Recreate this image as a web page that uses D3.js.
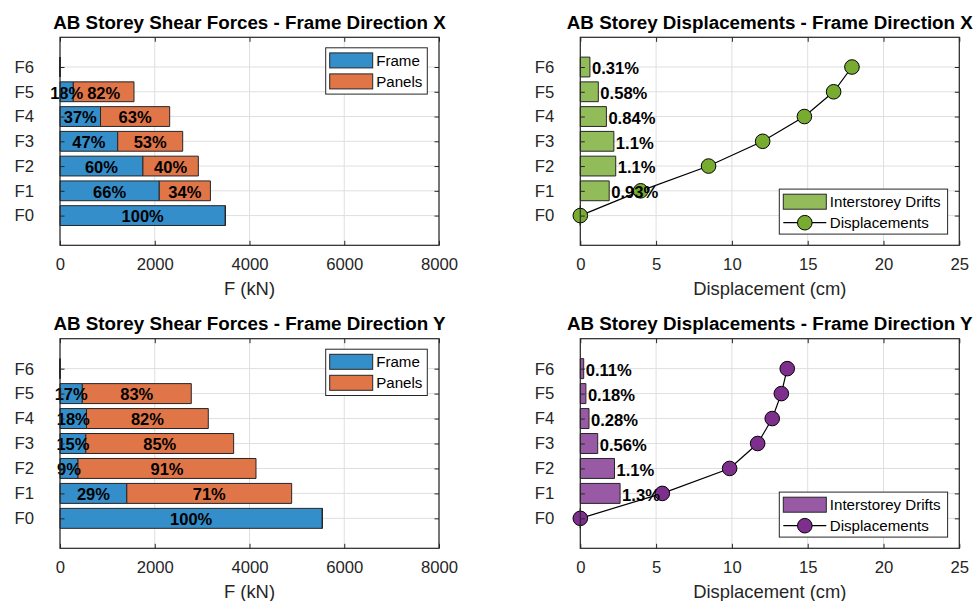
<!DOCTYPE html>
<html>
<head>
<meta charset="utf-8">
<script src="https://cdn.jsdelivr.net/npm/d3@7"></script>
<style>
  html, body { margin: 0; padding: 0; background: #fff; }
  svg { display: block; font-family: "Liberation Sans", Arial, Helvetica, sans-serif; }
</style>
</head>
<body>
<svg id="chart" width="975" height="601"></svg>
<script>
// Storey labels, bottom to top
const storeys = ["F0", "F1", "F2", "F3", "F4", "F5", "F6"];

// Storey shear forces (kN) carried by frame and by infill panels
const frameX  = [3490, 2095, 1750, 1218,  855,  281, 0];
const panelsX = [   0, 1080, 1170, 1372, 1460, 1281, 0];
const frameY  = [5537, 1410,  380,  545,  560,  471, 0];
const panelsY = [   0, 3480, 3757, 3120, 2570, 2300, 0];

// Interstorey drift ratios (%) and storey displacements (cm)
const driftX = [0, 0.93, 1.14, 1.08, 0.84, 0.58, 0.31];
const dispX  = [0, 3.98, 8.46, 12.03, 14.78, 16.71, 17.92];
const driftY = [0, 1.28, 1.10, 0.56, 0.28, 0.18, 0.11];
const dispY  = [0, 5.41, 9.85, 11.70, 12.66, 13.26, 13.65];
const storeyHeight = 205; // cm, converts drift ratio to drift length

// Axis ticks
const forceTicks = [0, 2000, 4000, 6000, 8000];
const dispTicks = [0, 5, 10, 15, 20, 25];

const svg = d3.select("#chart");
const INK = "#262626";
const TICK_FONT = 16.7, LABEL_FONT = 18.4, TITLE_FONT = 18.8, LEGEND_FONT = 15.1;

function rectPath(x, y, w, h) {
  const p = d3.path();
  p.rect(x, y, w, h);
  return p.toString();
}

function makeAxes(box, xDomain, xTicks, xLabel, title) {
  const g = svg.append("g");
  const x = d3.scaleLinear().domain(xDomain).range([box.left, box.right]);
  const y = d3.scaleLinear().domain([-1.2, 7.2]).range([box.bottom, box.top]);
  const yTicks = d3.range(storeys.length);

  // grid
  const grid = g.append("g").attr("stroke", "#dfdfdf").attr("stroke-width", 1);
  grid.selectAll("line.vx").data(xTicks).join("line")
    .attr("x1", d => x(d)).attr("x2", d => x(d))
    .attr("y1", box.top).attr("y2", box.bottom);
  grid.selectAll("line.hy").data(yTicks).join("line")
    .attr("x1", box.left).attr("x2", box.right)
    .attr("y1", d => y(d)).attr("y2", d => y(d));

  const layers = { g, x, y, marks: g.append("g") };

  // axes drawn after marks
  layers.finish = function () {
    const ax = g.append("g");
    const bottom = ax.append("g").attr("transform", `translate(0,${box.bottom})`)
      .call(d3.axisBottom(x).tickValues(xTicks).tickSize(-4.5).tickPadding(13).tickFormat(d3.format("d")));
    const top = ax.append("g").attr("transform", `translate(0,${box.top})`)
      .call(d3.axisTop(x).tickValues(xTicks).tickSize(-4.5).tickFormat(""));
    const left = ax.append("g").attr("transform", `translate(${box.left},0)`)
      .call(d3.axisLeft(y).tickValues(yTicks).tickSize(-4.5).tickPadding(26).tickFormat(i => storeys[i]));
    const right = ax.append("g").attr("transform", `translate(${box.right},0)`)
      .call(d3.axisRight(y).tickValues(yTicks).tickSize(-4.5).tickFormat(""));
    [bottom, top, left, right].forEach(a => {
      a.select(".domain").remove();
      a.selectAll(".tick line").attr("stroke", INK).attr("stroke-width", 1);
      a.selectAll(".tick text").attr("fill", INK).attr("font-size", TICK_FONT).attr("font-family", null);
    });
    ax.append("rect")
      .attr("x", box.left).attr("y", box.top)
      .attr("width", box.right - box.left).attr("height", box.bottom - box.top)
      .attr("fill", "none").attr("stroke", INK).attr("stroke-width", 1.2);
    ax.append("text")
      .attr("x", (box.left + box.right) / 2).attr("y", box.bottom + 49.3)
      .attr("text-anchor", "middle").attr("fill", INK).attr("font-size", LABEL_FONT)
      .text(xLabel);
    ax.append("text")
      .attr("x", (box.left + box.right) / 2).attr("y", box.top - 8.7)
      .attr("text-anchor", "middle").attr("fill", "#000").attr("font-size", TITLE_FONT)
      .attr("font-weight", "bold")
      .text(title);
  };
  return layers;
}

// legend box anchored to the top-right ("ne") or bottom-right ("se") corner
function legend(parent, box, w, h, corner, entries) {
  const lx = box.right - 11.7 - w;
  const ly = corner === "ne" ? box.top + 10.5 : box.bottom - 11.2 - h;
  const g = parent.append("g").attr("transform", `translate(${lx},${ly})`);
  g.append("rect").attr("width", w).attr("height", h)
    .attr("fill", "#fff").attr("stroke", INK).attr("stroke-width", 1);
  entries.forEach((e, i) => {
    const cy = 12.6 + i * 21;
    if (e.type === "bar") {
      g.append("rect").attr("x", 4).attr("y", cy - 7.5).attr("width", 43).attr("height", 15)
        .attr("fill", e.color).attr("stroke", INK).attr("stroke-width", 1);
    } else {
      g.append("line").attr("x1", 4).attr("x2", 47).attr("y1", cy).attr("y2", cy)
        .attr("stroke", "#000").attr("stroke-width", 1.2);
      g.append("circle").attr("cx", 25.5).attr("cy", cy).attr("r", 7.3)
        .attr("fill", e.color).attr("stroke", "#000").attr("stroke-width", 1);
    }
    g.append("text").attr("x", 50.5).attr("y", cy).attr("dy", "0.35em")
      .attr("font-size", LEGEND_FONT).attr("fill", "#000").text(e.label);
  });
}

function shearPanel(box, frame, panels, title) {
  const ax = makeAxes(box, [0, 8000], forceTicks, "F (kN)", title);
  const { x, y, marks } = ax;
  const bh = (y(0) - y(1)) * 0.8;
  const blue = "#338eca", orange = "#e07547";
  const rows = storeys.map((s, i) => ({ i, f: frame[i], p: panels[i], t: frame[i] + panels[i] }));

  marks.selectAll("path.frame").data(rows).join("path")
    .attr("d", d => rectPath(x(0), y(d.i) - bh / 2, x(d.f) - x(0), bh))
    .attr("fill", blue).attr("stroke", INK).attr("stroke-width", 1);
  marks.selectAll("path.panel").data(rows).join("path")
    .attr("d", d => rectPath(x(d.f), y(d.i) - bh / 2, x(d.t) - x(d.f), bh))
    .attr("fill", orange).attr("stroke", INK).attr("stroke-width", 1);

  const labels = [];
  rows.forEach(d => {
    if (d.t <= 0) return;
    if (d.f > 0) labels.push({ i: d.i, cx: d.f / 2, v: Math.round(d.f / d.t * 100) });
    if (d.p > 0) labels.push({ i: d.i, cx: d.f + d.p / 2, v: Math.round(d.p / d.t * 100) });
  });
  marks.selectAll("text.pct").data(labels).join("text")
    .attr("x", d => x(d.cx)).attr("y", d => y(d.i) + 1).attr("dy", "0.35em")
    .attr("text-anchor", "middle").attr("font-weight", "bold").attr("font-size", 16.5)
    .attr("fill", "#000").text(d => d.v + "%");

  ax.finish();
  legend(ax.g, box, 101.6, 46.3, "ne", [
    { type: "bar", color: blue, label: "Frame" },
    { type: "bar", color: orange, label: "Panels" }
  ]);
}

function dispPanel(box, drift, disp, title, barColor, markColor) {
  const ax = makeAxes(box, [0, 25], dispTicks, "Displacement (cm)", title);
  const { x, y, marks } = ax;
  const bh = (y(0) - y(1)) * 0.8;
  const rows = storeys.map((s, i) => ({ i, r: drift[i], len: drift[i] * storeyHeight / 100, u: disp[i] }));
  const fmt = d3.format(".2~r");

  marks.selectAll("path.drift").data(rows).join("path")
    .attr("d", d => rectPath(x(0), y(d.i) - bh / 2, x(d.len) - x(0), bh))
    .attr("fill", barColor).attr("stroke", INK).attr("stroke-width", 1);

  marks.append("path").datum(rows)
    .attr("d", d3.line().x(d => x(d.u)).y(d => y(d.i)))
    .attr("fill", "none").attr("stroke", "#000").attr("stroke-width", 1.2);
  marks.selectAll("circle").data(rows).join("circle")
    .attr("cx", d => x(d.u)).attr("cy", d => y(d.i)).attr("r", 7.3)
    .attr("fill", markColor).attr("stroke", "#000").attr("stroke-width", 1);

  marks.selectAll("text.drift").data(rows.filter(d => d.r > 0)).join("text")
    .attr("x", d => x(d.len) + 2).attr("y", d => y(d.i) + 1.5).attr("dy", "0.35em")
    .attr("font-weight", "bold").attr("font-size", 16.6).attr("fill", "#000")
    .text(d => fmt(d.r) + "%");

  ax.finish();
  legend(ax.g, box, 168.3, 45, "se", [
    { type: "bar", color: barColor, label: "Interstorey Drifts" },
    { type: "line", color: markColor, label: "Displacements" }
  ]);
}

const topBox = { top: 37.3, bottom: 245.3 };
const botBox = { top: 338.7, bottom: 548.3 };
const leftCol = { left: 60, right: 439 };
const rightCol = { left: 580.3, right: 959.3 };

shearPanel({ ...leftCol, ...topBox }, frameX, panelsX, "AB Storey Shear Forces - Frame Direction X");
dispPanel({ ...rightCol, ...topBox }, driftX, dispX, "AB Storey Displacements - Frame Direction X", "#92bc59", "#77ac30");
shearPanel({ ...leftCol, ...botBox }, frameY, panelsY, "AB Storey Shear Forces - Frame Direction Y");
dispPanel({ ...rightCol, ...botBox }, driftY, dispY, "AB Storey Displacements - Frame Direction Y", "#9859a5", "#7e2f8e");
</script>
</body>
</html>
